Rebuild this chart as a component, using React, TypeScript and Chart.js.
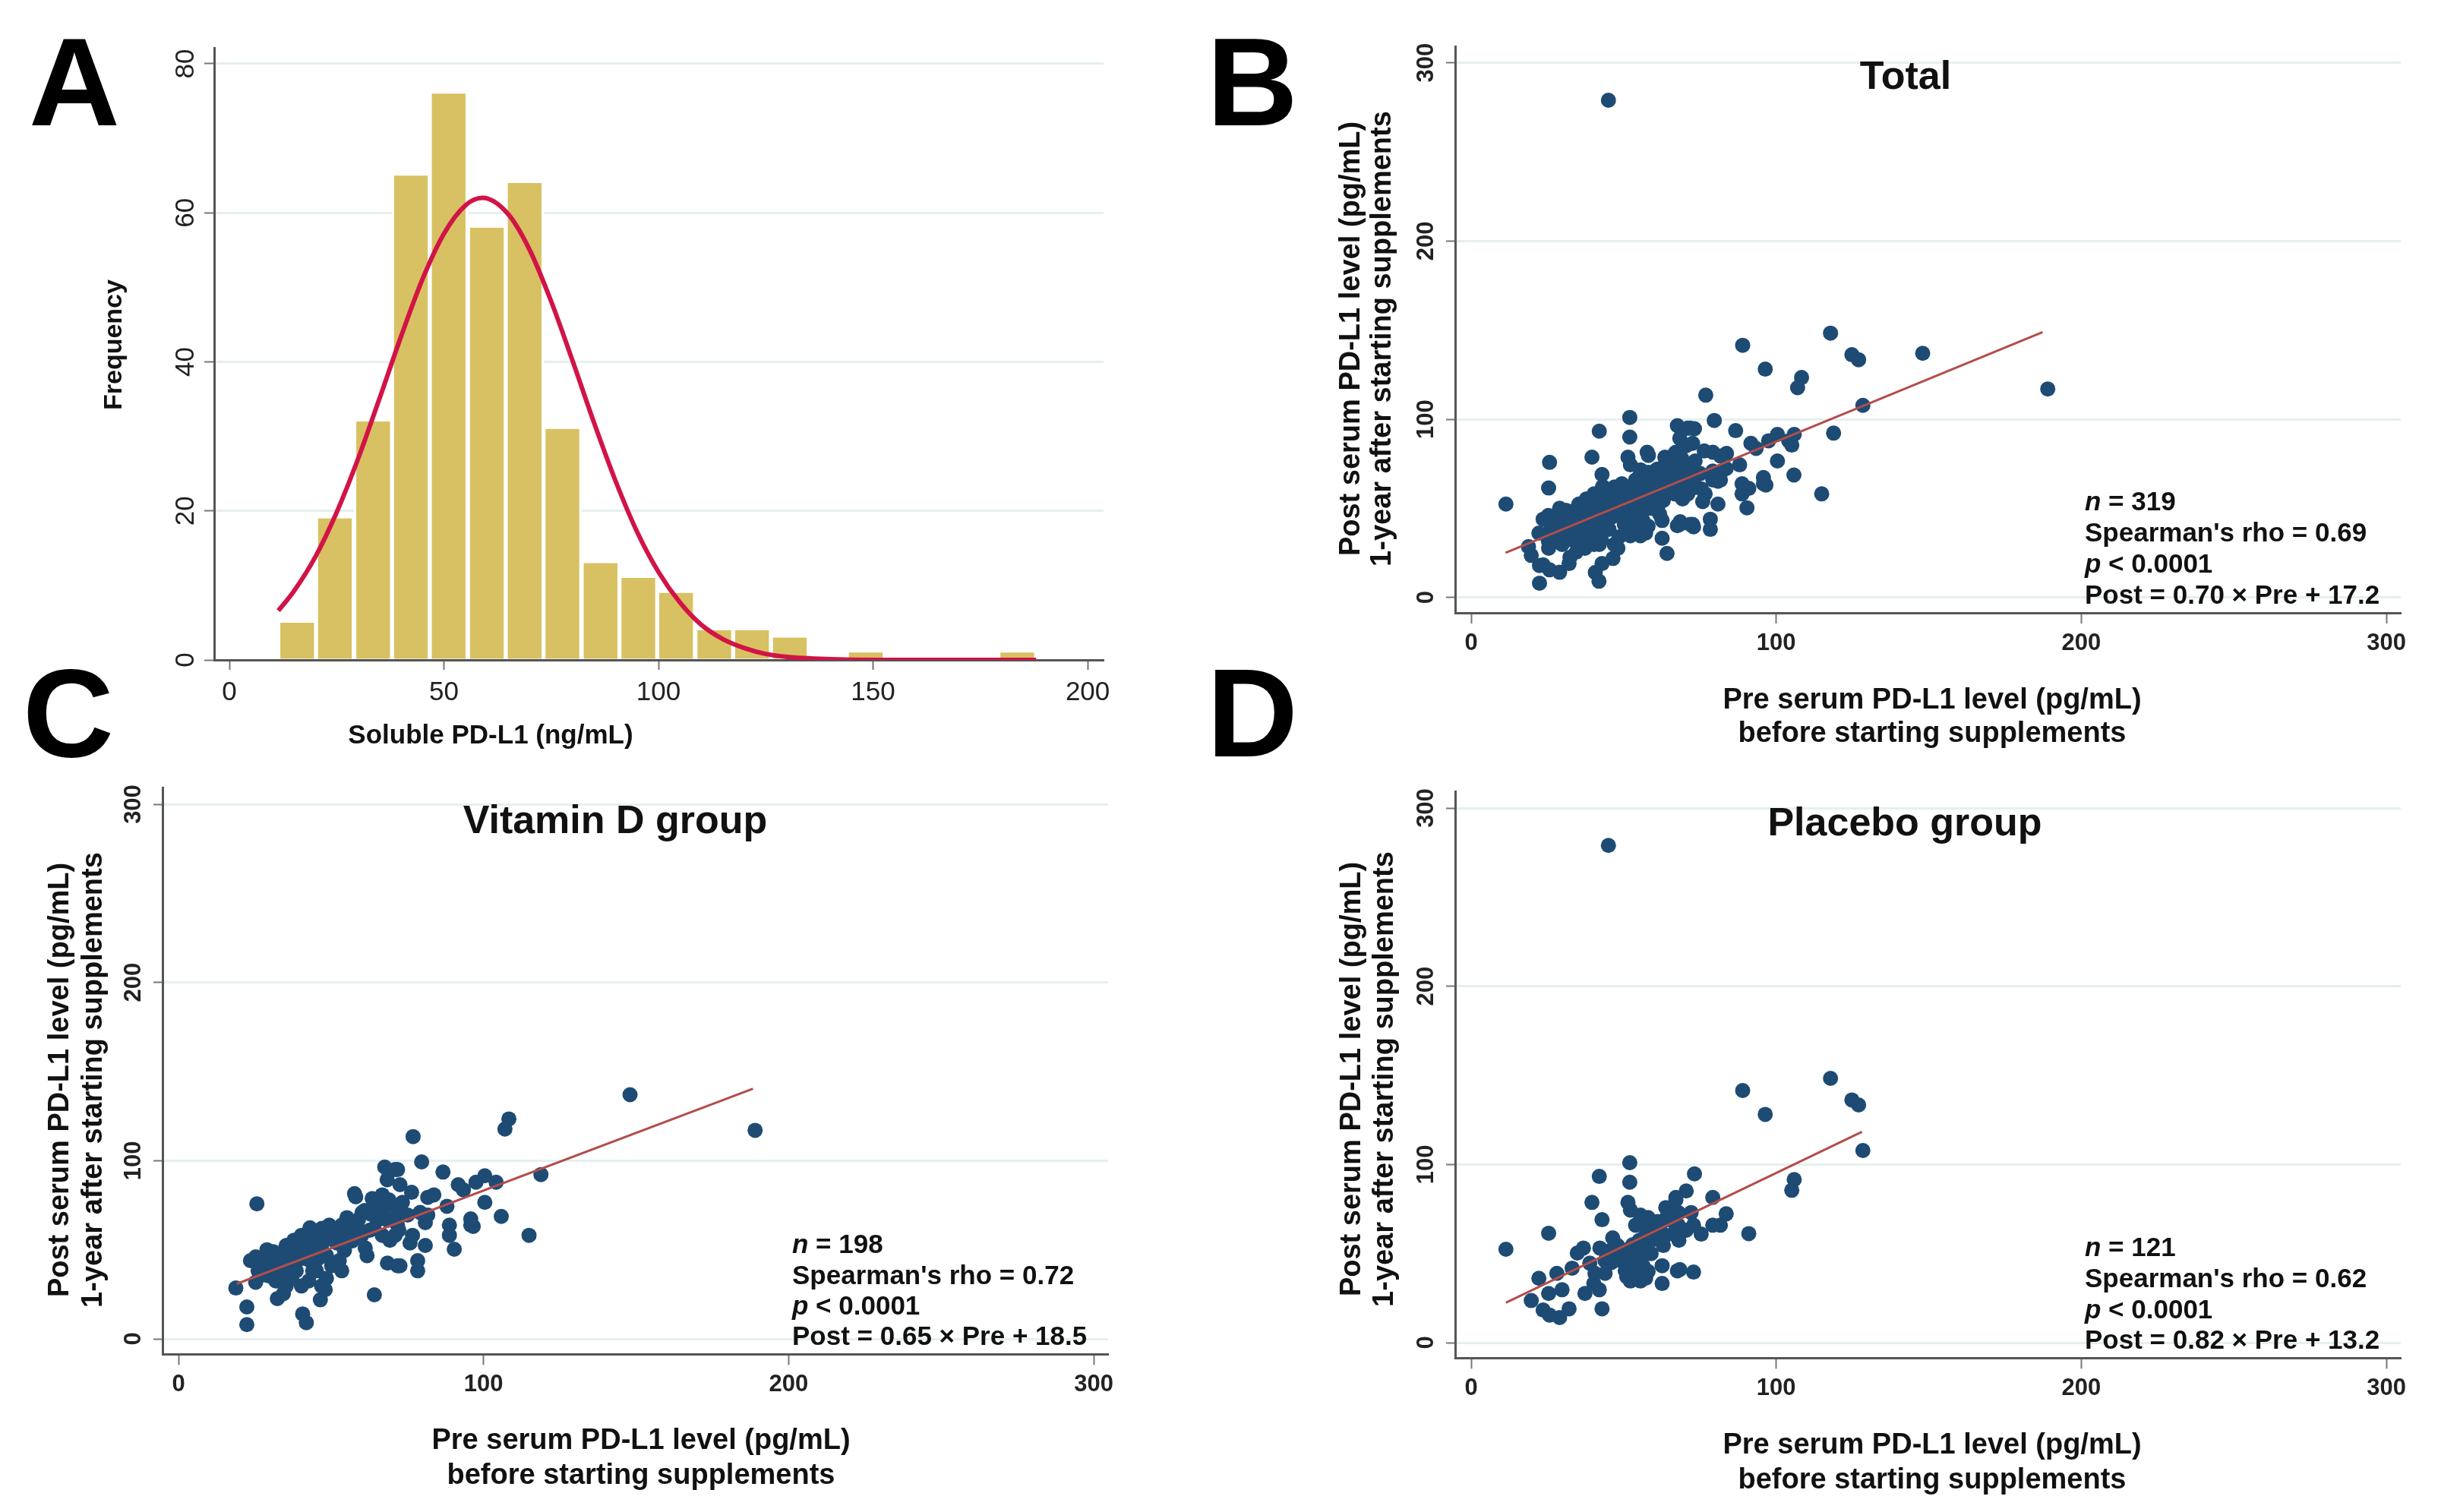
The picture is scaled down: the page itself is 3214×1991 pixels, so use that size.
import React, { useEffect, useRef } from "react";
import { Chart, registerables } from "chart.js";
Chart.register(...registerables);

const FONT = '"Liberation Sans", Arial, Helvetica, sans-serif';
const BAR_COLOR = "#D8C162";
const CURVE_COLOR = "#D11447";
const DOT_COLOR = "#1D4B74";
const FIT_COLOR = "#B24D4B";
const AXIS_COLOR = "#555555";
const GRID_COLOR = "#E6EFF0";
const TICK_COLOR = "#777777";

// ---------- Panel A: histogram ----------
const binCenters = [15.8, 24.6, 33.5, 42.3, 51.1, 60.0, 68.8, 77.6, 86.5, 95.3, 104.1, 113.0, 121.8, 130.6, 139.5, 148.3, 157.1, 166.0, 174.8, 183.6];
const binCounts = [5, 19, 32, 65, 76, 58, 64, 31, 13, 11, 9, 4, 4, 3, 0, 1, 0, 0, 0, 1];
const curveX = [11.4, 15, 20, 25, 30, 35, 40, 45, 50, 55, 59, 65, 70, 75, 80, 85, 90, 95, 100, 105, 110, 115, 120, 125, 130, 140, 150, 160, 170, 180, 188];
const curveY = [6.6, 9.2, 13.8, 19.8, 27, 35.1, 43.4, 51.1, 57.2, 61, 62, 59.8, 55, 48.1, 40.1, 31.8, 24, 17.2, 11.8, 7.7, 4.7, 2.8, 1.6, 0.8, 0.4, 0.1, 0, 0, 0, 0, 0];
const histXTicks = [0, 50, 100, 150, 200];
const histYTicks = [0, 20, 40, 60, 80];

// ---------- Panels B-D: scatter ----------
const scatterXTicks = [0, 100, 200, 300];
const scatterYTicks = [0, 100, 200, 300];

// Vitamin D group (pre, post)
const vitaminDPoints: [number, number][] = [
  [25.7, 75.8], [18.8, 28.5], [22.4, 17.9], [22.4, 8], [40.7, 14], [41.9, 9.1], [64.2, 24.7], [32.4, 22.6], [34.4, 25.4], [46.5, 21.9],
  [48.1, 27.6], [25.3, 31.8], [25.3, 46], [28.6, 46.7], [31.1, 48.9], [35.3, 52.4], [40.3, 58.1], [43.1, 62.3], [49.4, 63.8], [53.5, 63.8],
  [55.2, 68], [57.7, 81.5], [58.1, 79.7], [67.6, 96.4], [71, 95], [68.4, 89.3], [63.5, 78.7], [66.8, 80.8], [60.2, 70.9], [65.2, 73.7],
  [70.1, 75.1], [68.5, 42.5], [71.8, 41], [61.8, 46.7], [61.2, 51], [53.5, 38.2], [52.7, 43.9], [54.4, 49.6], [51.9, 53.8], [46.9, 52.4],
  [46, 45.3], [45.2, 38.2], [42.7, 32.5], [40.3, 29.7], [38.6, 38.2], [41.1, 45.3], [38.6, 49.6], [36.1, 41], [34.4, 35.4], [31.9, 32.5],
  [30.3, 39.6], [27.8, 41], [26.1, 38.2], [23.6, 43.9], [30.3, 45.3], [33.6, 43.9], [36.9, 46.7], [43.6, 52.4], [47.7, 58.1], [51, 59.5],
  [41.9, 56.7], [37.8, 55.3], [56, 59.5], [58.5, 63.8], [62.6, 60.9], [66.8, 58.1], [69.3, 55.3], [71, 58.1], [71.8, 63.8], [71.8, 69.5],
  [68.5, 66.6], [65.2, 66.6], [50.2, 41], [48.5, 46.7], [35.3, 29.7], [29.5, 35.4], [32.8, 39.6], [48.5, 34], [44, 38.2], [46.9, 29.7],
  [108.3, 123.4], [107, 117.7], [76.9, 113.5], [79.7, 99.3], [86.7, 93.6], [71.8, 95], [91.7, 86.5], [97.5, 87.9], [100.4, 91.5], [104.1, 87.9],
  [118.8, 92.2], [100.4, 76.6], [105.8, 68.7], [114.9, 58.1], [95.8, 63.8], [96.6, 63.1], [95.8, 67.3], [88.8, 63.8], [88.8, 58.1], [90.4, 50.3],
  [88, 74.4], [80.9, 65.2], [80.9, 52.4], [78.4, 43.9], [78.4, 38.2], [72.6, 41], [75.9, 53.8], [76.4, 82.2], [81.7, 79.4], [83.7, 80.8],
  [73.4, 76.6], [72.6, 86.5], [75.1, 69.5], [79.2, 70.9], [72.2, 61], [76.7, 58.1], [81.7, 69.5], [93.4, 83.6], [148, 137], [189, 117],
  [27, 44], [29, 50], [33, 48], [35, 45], [37, 52], [39, 44], [42, 48], [44, 55], [45, 48], [47, 62],
  [50, 56], [52, 60], [54, 57], [56, 65], [59, 67], [61, 72], [63, 70], [66, 76], [69, 78], [57, 55],
  [60, 58], [64, 62], [67, 70], [45, 60], [40, 52], [34, 38], [28, 36], [31, 42], [37, 34], [43, 44]
];

// Placebo group (pre, post)
const placeboPoints: [number, number][] = [
  [11.4, 52.4], [25.4, 61.4], [42, 93.3], [52, 101], [52, 90], [39.6, 78.7], [42.9, 69], [51.4, 78.7], [52.2, 74.4], [55.5, 71.6],
  [58, 70.2], [53.9, 65.9], [63.8, 75.8], [67.1, 81.5], [65.5, 68.7], [63, 54.5], [62.6, 43.2], [62.6, 33.2], [67.6, 40.3], [42.9, 19],
  [37.3, 27.6], [42, 29.7], [40.2, 33.2], [29.8, 29.7], [25.4, 27.6], [19.7, 23.6], [22.2, 36.1], [23.6, 18.3], [25.7, 15.5], [29, 14.1],
  [32.1, 19], [28.1, 38.9], [33.1, 41.8], [34.8, 50.3], [36.8, 53.1], [38.9, 44.6], [42.2, 53.1], [43.9, 46], [43.9, 38.9], [46.4, 58.8],
  [48, 54.5], [50.5, 48.9], [52.2, 40.3], [52.2, 34.6], [55.5, 34.6], [56.3, 43.2], [55.5, 53.1], [57.2, 60.2], [60.5, 64.5], [63.8, 60.2],
  [67.1, 63.1], [49.2, 46], [53.9, 46], [50.5, 40.3], [45.6, 51.7], [40.6, 38.9], [57.2, 36.1], [55.1, 57.4],
  [117.8, 148.3], [89, 141.5], [96.4, 128.1], [124.8, 136.2], [127, 133.4], [128.4, 107.8], [105.9, 91.5], [105.1, 85.5], [73.2, 94.7], [70.5, 85.1],
  [79.2, 81.5], [83.6, 72.3], [81.7, 65.9], [79.2, 65.9], [91, 61.2], [75.4, 60.9], [68.4, 41], [72.9, 39.6], [72.1, 73], [67.1, 80.1],
  [67.9, 65.9], [70.5, 63.1], [67.1, 60.2], [68.1, 57.4], [72.9, 65.9], [67.9, 73], [45, 279],
  [51, 37], [53, 42], [54, 50], [56, 48], [57, 55], [58, 40], [53, 55], [51, 52], [56, 38], [59, 50],
  [48, 50], [46, 45], [60, 58], [62, 66], [64, 70], [66, 72], [58, 65], [61, 68]
];

const totalPoints: [number, number][] = [...vitaminDPoints, ...placeboPoints];

// Fitted regression lines (endpoints)
const fitTotalPre = [11.3, 187.3];
const fitTotalPost = [25.1, 148.9];
const fitVitDPre = [19.1, 188.3];
const fitVitDPost = [30.9, 140.4];
const fitPlaceboPre = [11.4, 128.1];
const fitPlaceboPost = [22.4, 118.3];

// ---------- helpers ----------
type Rect = { x: number; y: number; w: number; h: number };
type Area = { l: number; r: number; t: number; b: number };

const yTickLabels = {
  id: "yTickLabels",
  afterDraw(chart: any, _args: any, opts: any) {
    const s = chart.scales.y;
    const ctx = chart.ctx;
    ctx.save();
    ctx.font = opts.font;
    ctx.fillStyle = opts.color;
    ctx.textAlign = "center";
    ctx.textBaseline = "middle";
    for (const t of s.ticks) {
      const py = s.getPixelForValue(t.value);
      ctx.save();
      ctx.translate(s.right - opts.offset, py);
      ctx.rotate(-Math.PI / 2);
      ctx.fillText(String(t.value), 0, 0);
      ctx.restore();
    }
    ctx.restore();
  },
};

function padFor(rect: Rect, area: Area, wy: number, hx: number) {
  return {
    left: area.l - rect.x - wy,
    right: rect.x + rect.w - area.r,
    top: area.t - rect.y,
    bottom: rect.y + rect.h - area.b - hx,
  };
}

function histConfig(rect: Rect, area: Area) {
  const WY = 100, HX = 70;
  return {
    type: "bar",
    data: {
      datasets: [
        {
          type: "line",
          data: curveX.map((x, i) => ({ x, y: curveY[i] })),
          borderColor: CURVE_COLOR,
          borderWidth: 6,
          pointRadius: 0,
          cubicInterpolationMode: "monotone",
          fill: false,
          order: 0,
        },
        {
          type: "bar",
          data: binCenters.map((x, i) => ({ x, y: binCounts[i] })),
          backgroundColor: BAR_COLOR,
          borderColor: "#ffffff",
          borderWidth: { left: 3, right: 3, top: 0, bottom: 0 },
          borderSkipped: false,
          barPercentage: 1,
          categoryPercentage: 1,
          order: 1,
        },
      ],
    },
    options: {
      responsive: false,
      animation: false,
      events: [],
      layout: { padding: padFor(rect, area, WY, HX) },
      plugins: {
        legend: { display: false },
        tooltip: { enabled: false },
        yTickLabels: { font: `35px ${FONT}`, color: "#222", offset: 37 },
      },
      scales: {
        x: {
          type: "linear",
          min: -3.54,
          max: 203.7,
          offset: false,
          afterBuildTicks: (s: any) => { s.ticks = histXTicks.map((v) => ({ value: v })); },
          afterFit: (s: any) => { s.height = HX; },
          grid: { offset: false, drawOnChartArea: false, drawTicks: true, tickLength: 13, tickColor: TICK_COLOR, tickWidth: 2 },
          border: { display: true, color: AXIS_COLOR, width: 3 },
          ticks: { font: { family: FONT, size: 35 }, color: "#222", padding: 9, maxRotation: 0, minRotation: 0, autoSkip: false },
        },
        y: {
          type: "linear",
          min: 0,
          max: 82.14,
          afterBuildTicks: (s: any) => { s.ticks = histYTicks.map((v) => ({ value: v })); },
          afterFit: (s: any) => { s.width = WY; },
          grid: { color: GRID_COLOR, lineWidth: 3, drawTicks: true, tickLength: 13, tickColor: TICK_COLOR, tickWidth: 2 },
          border: { display: true, color: AXIS_COLOR, width: 3 },
          ticks: { display: false },
        },
      },
    },
    plugins: [yTickLabels],
  };
}

function scatterConfig(rect: Rect, area: Area, points: [number, number][], fitPre: number[], fitPost: number[]) {
  const WY = 60, HX = 70;
  return {
    type: "scatter",
    data: {
      datasets: [
        {
          type: "line",
          data: fitPre.map((x, i) => ({ x, y: fitPost[i] })),
          borderColor: FIT_COLOR,
          borderWidth: 3,
          pointRadius: 0,
          fill: false,
          order: 0,
        },
        {
          type: "scatter",
          data: points.map(([x, y]) => ({ x, y })),
          backgroundColor: DOT_COLOR,
          borderWidth: 0,
          pointRadius: 10,
          order: 1,
        },
      ],
    },
    options: {
      responsive: false,
      animation: false,
      events: [],
      layout: { padding: padFor(rect, area, WY, HX) },
      plugins: {
        legend: { display: false },
        tooltip: { enabled: false },
        yTickLabels: { font: `bold 31px ${FONT}`, color: "#222", offset: 38 },
      },
      scales: {
        x: {
          type: "linear",
          min: -5.23,
          max: 304.7,
          afterBuildTicks: (s: any) => { s.ticks = scatterXTicks.map((v) => ({ value: v })); },
          afterFit: (s: any) => { s.height = HX; },
          grid: { drawOnChartArea: false, drawTicks: true, tickLength: 14, tickColor: TICK_COLOR, tickWidth: 2 },
          border: { display: true, color: AXIS_COLOR, width: 3 },
          ticks: { font: { family: FONT, size: 31, weight: "bold" }, color: "#222", padding: 8, maxRotation: 0, minRotation: 0, autoSkip: false },
        },
        y: {
          type: "linear",
          min: -8.65,
          max: 309.25,
          afterBuildTicks: (s: any) => { s.ticks = scatterYTicks.map((v) => ({ value: v })); },
          afterFit: (s: any) => { s.width = WY; },
          grid: { color: GRID_COLOR, lineWidth: 3, drawTicks: true, tickLength: 12, tickColor: TICK_COLOR, tickWidth: 2 },
          border: { display: true, color: AXIS_COLOR, width: 3 },
          ticks: { display: false },
        },
      },
    },
    plugins: [yTickLabels],
  };
}

function ChartCanvas({ rect, make }: { rect: Rect; make: () => any }) {
  const ref = useRef<HTMLCanvasElement | null>(null);
  useEffect(() => {
    const chart = new Chart(ref.current as HTMLCanvasElement, make());
    return () => chart.destroy();
  }, []);
  return (
    <canvas
      ref={ref}
      width={rect.w}
      height={rect.h}
      style={{ position: "absolute", left: rect.x, top: rect.y, width: rect.w, height: rect.h }}
    />
  );
}

function T({ x, y, size, rot, left, children, weight = "bold" }: any) {
  const style: any = {
    position: "absolute",
    left: x,
    top: y,
    fontFamily: FONT,
    fontSize: size,
    fontWeight: weight,
    lineHeight: 1,
    whiteSpace: "nowrap",
    color: "#111",
    transform: left ? "translate(0,-50%)" : rot ? "translate(-50%,-50%) rotate(-90deg)" : "translate(-50%,-50%)",
  };
  return <div style={style}>{children}</div>;
}

function Letter({ x, y, children }: any) {
  return (
    <div style={{ position: "absolute", left: x, top: y, fontFamily: FONT, fontWeight: "bold", fontSize: 166, lineHeight: 1, color: "#000" }}>
      {children}
    </div>
  );
}

function Stats({ x, ys, n, rho, eq }: any) {
  return (
    <>
      <T x={x} y={ys[0]} size={35} left><i>n</i> = {n}</T>
      <T x={x} y={ys[1]} size={35} left>Spearman's rho = {rho}</T>
      <T x={x} y={ys[2]} size={35} left><i>p</i> &lt; 0.0001</T>
      <T x={x} y={ys[3]} size={35} left>{eq}</T>
    </>
  );
}

const rectA: Rect = { x: 0, y: 0, w: 1560, h: 1000 };
const areaA: Area = { l: 282, r: 1453, t: 63, b: 869 };
const rectB: Rect = { x: 1560, y: 0, w: 1654, h: 1000 };
const areaB: Area = { l: 1916, r: 3161, t: 61, b: 807 };
const rectC: Rect = { x: 0, y: 1000, w: 1560, h: 991 };
const areaC: Area = { l: 214, r: 1459, t: 1037.3, b: 1783.3 };
const rectD: Rect = { x: 1560, y: 1000, w: 1654, h: 991 };
const areaD: Area = { l: 1916, r: 3161, t: 1042.3, b: 1788.3 };

export default function App() {
  useEffect(() => {
    document.body.style.margin = "0";
    document.body.style.background = "#ffffff";
  }, []);
  const yTitle1 = "Post serum PD-L1 level (pg/mL)";
  const yTitle2 = "1-year after starting supplements";
  const xTitle1 = "Pre serum PD-L1 level (pg/mL)";
  const xTitle2 = "before starting supplements";
  return (
    <div style={{ position: "absolute", left: 0, top: 0, width: 3214, height: 1991, background: "#fff", overflow: "hidden" }}>
      <ChartCanvas rect={rectA} make={() => histConfig(rectA, areaA)} />
      <ChartCanvas rect={rectB} make={() => scatterConfig(rectB, areaB, totalPoints, fitTotalPre, fitTotalPost)} />
      <ChartCanvas rect={rectC} make={() => scatterConfig(rectC, areaC, vitaminDPoints, fitVitDPre, fitVitDPost)} />
      <ChartCanvas rect={rectD} make={() => scatterConfig(rectD, areaD, placeboPoints, fitPlaceboPre, fitPlaceboPost)} />

      <Letter x={38} y={25}>A</Letter>
      <Letter x={1589} y={25}>B</Letter>
      <Letter x={30} y={856}>C</Letter>
      <Letter x={1589} y={856}>D</Letter>

      {/* Panel A */}
      <T x={148} y={454} size={34} rot>Frequency</T>
      <T x={646} y={966} size={35}>Soluble PD-L1 (ng/mL)</T>

      {/* Panel B */}
      <T x={2509} y={99} size={52}>Total</T>
      <T x={1777} y={446} size={38} rot>{yTitle1}</T>
      <T x={1818} y={446} size={38} rot>{yTitle2}</T>
      <T x={2544} y={920} size={38}>{xTitle1}</T>
      <T x={2544} y={964} size={38}>{xTitle2}</T>
      <Stats x={2745} ys={[659, 700, 741, 782]} n={319} rho="0.69" eq="Post = 0.70 × Pre + 17.2" />

      {/* Panel C */}
      <T x={810} y={1079} size={52}>Vitamin D group</T>
      <T x={77} y={1422} size={38} rot>{yTitle1}</T>
      <T x={121} y={1422} size={38} rot>{yTitle2}</T>
      <T x={844} y={1895} size={38}>{xTitle1}</T>
      <T x={844} y={1941} size={38}>{xTitle2}</T>
      <Stats x={1043} ys={[1637, 1678, 1718, 1758]} n={198} rho="0.72" eq="Post = 0.65 × Pre + 18.5" />

      {/* Panel D */}
      <T x={2508} y={1082} size={52}>Placebo group</T>
      <T x={1778} y={1421} size={38} rot>{yTitle1}</T>
      <T x={1821} y={1421} size={38} rot>{yTitle2}</T>
      <T x={2544} y={1901} size={38}>{xTitle1}</T>
      <T x={2544} y={1947} size={38}>{xTitle2}</T>
      <Stats x={2745} ys={[1641, 1682, 1723, 1763]} n={121} rho="0.62" eq="Post = 0.82 × Pre + 13.2" />
    </div>
  );
}
